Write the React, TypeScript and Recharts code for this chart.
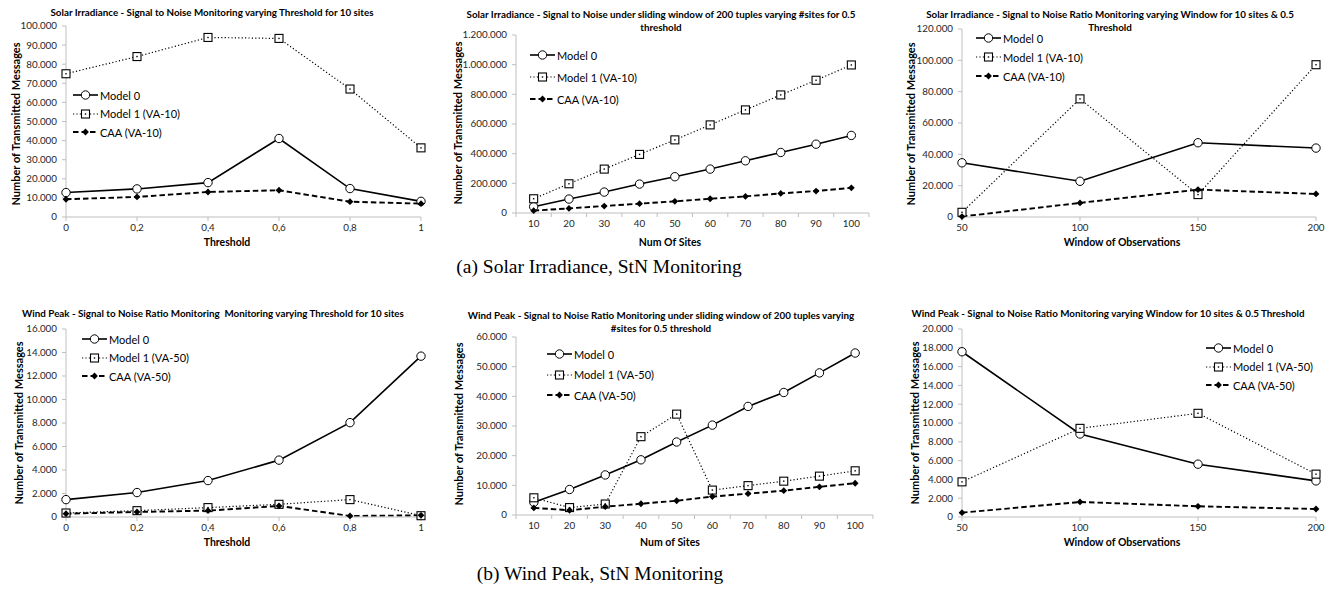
import React from 'react';
import { LineChart, Line, XAxis, YAxis, Legend } from 'recharts';

// ---------- data ----------
const thresholds = [0, 0.2, 0.4, 0.6, 0.8, 1];
const sites = [10, 20, 30, 40, 50, 60, 70, 80, 90, 100];
const windows = [50, 100, 150, 200];

const solarThrModel0 = [12800, 14700, 18000, 41100, 14900, 8200];
const solarThrModel1 = [75000, 84000, 94000, 93500, 67000, 36200];
const solarThrCAA = [9300, 10500, 13100, 14000, 8000, 7000];

const solarSitesModel0 = [42600, 94000, 141000, 195000, 244500, 296000, 352000, 408000, 464000, 523000];
const solarSitesModel1 = [96000, 197000, 296000, 395000, 493000, 594000, 695000, 796000, 895000, 998000];
const solarSitesCAA = [16000, 31000, 47000, 63000, 78500, 96000, 112000, 132000, 148000, 170000];

const solarWinModel0 = [34600, 22800, 47400, 44000];
const solarWinModel1 = [3000, 75400, 14300, 97200];
const solarWinCAA = [300, 9000, 17500, 14700];

const windThrModel0 = [1480, 2080, 3100, 4840, 8030, 13690];
const windThrModel1 = [340, 540, 800, 1080, 1480, 110];
const windThrCAA = [280, 430, 540, 940, 90, 140];

const windSitesModel0 = [4260, 8600, 13500, 18600, 24600, 30300, 36600, 41300, 47900, 54600];
const windSitesModel1 = [5800, 2500, 3700, 26400, 34000, 8400, 9900, 11400, 13100, 14900];
const windSitesCAA = [2400, 1600, 2800, 3800, 4800, 6200, 7200, 8200, 9500, 10700];

const windWinModel0 = [17580, 8830, 5620, 3840];
const windWinModel1 = [3740, 9430, 11030, 4560];
const windWinCAA = [460, 1600, 1140, 850];

const solarNames = ['Model 0', 'Model 1 (VA-10)', 'CAA (VA-10)'];
const windNames = ['Model 0', 'Model 1 (VA-50)', 'CAA (VA-50)'];

// ---------- helpers ----------
const FONT = 'Lato, "Liberation Sans", sans-serif';
const AXIS_GRAY = '#bfbfbf';
const TICK_COLOR = '#262626';

const fmtThousands = (v: number) => Math.round(v).toString().replace(/\B(?=(\d{3})+(?!\d))/g, '.');
const fmtDecimal = (v: number) => String(v).replace('.', ',');

const rows = (xs: number[], a: number[], b: number[], c: number[]) =>
  xs.map((x, i) => ({ x, m0: a[i], m1: b[i], caa: c[i] }));

const CircleDot = (props: any) => {
  const { cx, cy, index } = props;
  if (cx == null || cy == null) return <g key={`c${index}`} />;
  return <circle key={`c${index}`} cx={cx} cy={cy} r={4.2} fill="#fff" stroke="#000" strokeWidth={1} />;
};
const SquareDot = (props: any) => {
  const { cx, cy, index } = props;
  if (cx == null || cy == null) return <g key={`s${index}`} />;
  return (
    <g key={`s${index}`}>
      <rect x={cx - 4} y={cy - 4} width={8} height={8} fill="#fff" stroke="#000" strokeWidth={1.1} />
      <rect x={cx - 0.7} y={cy - 0.7} width={1.4} height={1.4} fill="#000" />
    </g>
  );
};
const DiamondDot = (props: any) => {
  const { cx, cy, index } = props;
  if (cx == null || cy == null) return <g key={`d${index}`} />;
  const r = 3.4;
  return (
    <polygon key={`d${index}`} points={`${cx},${cy - r} ${cx + r},${cy} ${cx},${cy + r} ${cx - r},${cy}`} fill="#000" />
  );
};

const seriesStyles = [
  { key: 'm0', Dot: CircleDot, dash: undefined as string | undefined, width: 1.6 },
  { key: 'm1', Dot: SquareDot, dash: '1.2 2.2', width: 1.2 },
  { key: 'caa', Dot: DiamondDot, dash: '5.5 3', width: 1.9 },
];

const makeLegend = (names: string[], gap: number) => () => (
  <div style={{ fontFamily: FONT, fontSize: 11, color: '#000' }}>
    {seriesStyles.map((s, i) => (
      <div key={s.key} style={{ display: 'flex', alignItems: 'center', height: gap }}>
        <svg width={25} height={12} style={{ display: 'block' }}>
          <line x1={0} y1={6} x2={25} y2={6} stroke="#000" strokeWidth={s.width} strokeDasharray={s.dash} />
          {s.Dot({ cx: 12.5, cy: 6, index: 0 })}
        </svg>
        <span style={{ marginLeft: 2, whiteSpace: 'nowrap' }}>{names[i]}</span>
      </div>
    ))}
  </div>
);

const BandTick = (props: any) => {
  const { x, y, payload, half, index } = props;
  return (
    <g>
      <line x1={x + half} x2={x + half} y1={y - 7} y2={y - 3} stroke={AXIS_GRAY} strokeWidth={1} />
      {index === 0 && <line x1={x - half} x2={x - half} y1={y - 7} y2={y - 3} stroke={AXIS_GRAY} strokeWidth={1} />}
      <text x={x} y={y} dy="0.71em" textAnchor="middle" fill={TICK_COLOR} fontSize={9.8} fontFamily={FONT}>
        {payload.value}
      </text>
    </g>
  );
};

type PanelCfg = {
  box: { left: number; top: number; width: number; height: number };
  plot: { x0: number; x1: number; y0: number; y1: number };
  band: boolean;
  xDomain: [number, number];
  xTicks: number[];
  xFmt: (v: number) => string;
  yMax: number;
  yStep: number;
  data: any[];
  names: string[];
  legend: { x: number; y: number; gap: number };
  title: { lines: string[]; cx: number; y: number; lineH: number };
  xTitle: { text: string; cx: number; cy: number };
  yTitle: { cx: number; cy: number };
};

const Panel = ({ cfg }: { cfg: PanelCfg }) => {
  const { box, plot } = cfg;
  const yAxisW = 50;
  const xAxisH = 30;
  const margin = {
    top: plot.y0 - box.top,
    right: box.left + box.width - plot.x1,
    left: plot.x0 - box.left - yAxisW,
    bottom: box.top + box.height - plot.y1 - xAxisH,
  };
  const yTicks: number[] = [];
  for (let v = 0; v <= cfg.yMax + 1e-6; v += cfg.yStep) yTicks.push(v);
  const half = (plot.x1 - plot.x0) / 20;
  return (
    <>
      <div style={{ position: 'absolute', left: box.left, top: box.top, width: box.width, height: box.height }}>
        <LineChart width={box.width} height={box.height} data={cfg.data} margin={margin}>
          {cfg.band ? (
            <XAxis
              dataKey="x"
              type="number"
              domain={cfg.xDomain}
              ticks={cfg.xTicks}
              height={xAxisH}
              stroke={AXIS_GRAY}
              tickLine={false}
              tickSize={4}
              tickMargin={3}
              interval={0}
              tick={<BandTick half={half} />}
            />
          ) : (
            <XAxis
              dataKey="x"
              type="number"
              domain={cfg.xDomain}
              ticks={cfg.xTicks}
              height={xAxisH}
              stroke={AXIS_GRAY}
              tickLine={{ stroke: AXIS_GRAY }}
              tickSize={4}
              tickMargin={3}
              interval={0}
              tickFormatter={cfg.xFmt}
              tick={{ fill: TICK_COLOR, fontSize: 9.8, fontFamily: FONT }}
            />
          )}
          <YAxis
            type="number"
            domain={[0, cfg.yMax]}
            ticks={yTicks}
            interval={0}
            width={yAxisW}
            stroke={AXIS_GRAY}
            tickLine={{ stroke: AXIS_GRAY }}
            tickSize={4}
            tickMargin={5}
            tickFormatter={fmtThousands}
            tick={{ fill: TICK_COLOR, fontSize: 9.8, fontFamily: FONT }}
          />
          <Legend
            layout="vertical"
            align="center"
            verticalAlign="middle"
            content={makeLegend(cfg.names, cfg.legend.gap)}
            wrapperStyle={{
              left: cfg.legend.x - box.left,
              top: cfg.legend.y - box.top - cfg.legend.gap / 2,
              width: 'auto',
              height: 'auto',
            }}
          />
          {seriesStyles.map((s, i) => (
            <Line
              key={s.key}
              name={cfg.names[i]}
              dataKey={s.key}
              type="linear"
              stroke="#000"
              strokeWidth={s.width}
              strokeDasharray={s.dash}
              dot={(p: any) => s.Dot(p)}
              activeDot={false}
              isAnimationActive={false}
            />
          ))}
        </LineChart>
      </div>
      {cfg.title.lines.map((t, i) => (
        <div
          key={`t${i}`}
          style={{
            position: 'absolute',
            left: cfg.title.cx,
            top: cfg.title.y + i * cfg.title.lineH,
            transform: 'translate(-50%, -50%)',
            whiteSpace: 'pre',
            fontFamily: FONT,
            fontWeight: 'bold',
            fontSize: 9.8,
            color: '#000',
            lineHeight: 1,
          }}
        >
          {t}
        </div>
      ))}
      <div
        style={{
          position: 'absolute',
          left: cfg.xTitle.cx,
          top: cfg.xTitle.cy,
          transform: 'translate(-50%, -50%)',
          whiteSpace: 'nowrap',
          fontFamily: FONT,
          fontWeight: 'bold',
          fontSize: 10.5,
          color: '#000',
          lineHeight: 1,
        }}
      >
        {cfg.xTitle.text}
      </div>
      <div
        style={{
          position: 'absolute',
          left: cfg.yTitle.cx,
          top: cfg.yTitle.cy,
          transform: 'translate(-50%, -50%) rotate(-90deg)',
          whiteSpace: 'nowrap',
          fontFamily: FONT,
          fontWeight: 'bold',
          fontSize: 11,
          color: '#000',
          lineHeight: 1,
        }}
      >
        Number of Transmitted Messages
      </div>
    </>
  );
};

const panels: PanelCfg[] = [
  {
    box: { left: 0, top: 0, width: 440, height: 250 },
    plot: { x0: 66, x1: 421, y0: 26, y1: 217 },
    band: false,
    xDomain: [0, 1],
    xTicks: thresholds,
    xFmt: fmtDecimal,
    yMax: 100000,
    yStep: 10000,
    data: rows(thresholds, solarThrModel0, solarThrModel1, solarThrCAA),
    names: solarNames,
    legend: { x: 73, y: 95, gap: 18.5 },
    title: { lines: ['Solar Irradiance - Signal to Noise Monitoring varying Threshold for 10 sites'], cx: 212, y: 13, lineH: 13 },
    xTitle: { text: 'Threshold', cx: 227, cy: 242 },
    yTitle: { cx: 15, cy: 124 },
  },
  {
    box: { left: 440, top: 0, width: 445, height: 250 },
    plot: { x0: 516, x1: 869, y0: 35, y1: 213 },
    band: true,
    xDomain: [5, 105],
    xTicks: sites,
    xFmt: (v: number) => String(v),
    yMax: 1200000,
    yStep: 200000,
    data: rows(sites, solarSitesModel0, solarSitesModel1, solarSitesCAA),
    names: solarNames,
    legend: { x: 530, y: 55, gap: 22 },
    title: {
      lines: ['Solar Irradiance - Signal to Noise under sliding window of 200 tuples varying #sites for 0.5', 'threshold'],
      cx: 661,
      y: 15,
      lineH: 13,
    },
    xTitle: { text: 'Num Of Sites', cx: 670, cy: 242 },
    yTitle: { cx: 457, cy: 123 },
  },
  {
    box: { left: 885, top: 0, width: 448, height: 250 },
    plot: { x0: 962, x1: 1316, y0: 29, y1: 217 },
    band: false,
    xDomain: [50, 200],
    xTicks: windows,
    xFmt: (v: number) => String(v),
    yMax: 120000,
    yStep: 20000,
    data: rows(windows, solarWinModel0, solarWinModel1, solarWinCAA),
    names: solarNames,
    legend: { x: 976, y: 38, gap: 19 },
    title: {
      lines: ['Solar Irradiance - Signal to Noise Ratio Monitoring varying Window for 10 sites & 0.5', 'Threshold'],
      cx: 1110,
      y: 15,
      lineH: 13,
    },
    xTitle: { text: 'Window of Observations', cx: 1122, cy: 242 },
    yTitle: { cx: 910, cy: 124 },
  },
  {
    box: { left: 0, top: 285, width: 440, height: 265 },
    plot: { x0: 66, x1: 421, y0: 329, y1: 517 },
    band: false,
    xDomain: [0, 1],
    xTicks: thresholds,
    xFmt: fmtDecimal,
    yMax: 16000,
    yStep: 2000,
    data: rows(thresholds, windThrModel0, windThrModel1, windThrCAA),
    names: windNames,
    legend: { x: 82, y: 339, gap: 18.5 },
    title: {
      lines: ['Wind Peak - Signal to Noise Ratio Monitoring  Monitoring varying Threshold for 10 sites'],
      cx: 213,
      y: 314,
      lineH: 13,
    },
    xTitle: { text: 'Threshold', cx: 227, cy: 542 },
    yTitle: { cx: 18, cy: 423 },
  },
  {
    box: { left: 440, top: 285, width: 445, height: 265 },
    plot: { x0: 516, x1: 873, y0: 337, y1: 515 },
    band: true,
    xDomain: [5, 105],
    xTicks: sites,
    xFmt: (v: number) => String(v),
    yMax: 60000,
    yStep: 10000,
    data: rows(sites, windSitesModel0, windSitesModel1, windSitesCAA),
    names: windNames,
    legend: { x: 547, y: 354, gap: 20.5 },
    title: {
      lines: ['Wind Peak - Signal to Noise Ratio Monitoring under sliding window of 200 tuples varying', '#sites for 0.5 threshold'],
      cx: 661,
      y: 316,
      lineH: 12.5,
    },
    xTitle: { text: 'Num of Sites', cx: 670, cy: 542 },
    yTitle: { cx: 458, cy: 424 },
  },
  {
    box: { left: 885, top: 285, width: 448, height: 265 },
    plot: { x0: 962, x1: 1316, y0: 329, y1: 517 },
    band: false,
    xDomain: [50, 200],
    xTicks: windows,
    xFmt: (v: number) => String(v),
    yMax: 20000,
    yStep: 2000,
    data: rows(windows, windWinModel0, windWinModel1, windWinCAA),
    names: windNames,
    legend: { x: 1206, y: 348, gap: 18.5 },
    title: {
      lines: ['Wind Peak - Signal to Noise Ratio Monitoring varying Window for 10 sites & 0.5 Threshold'],
      cx: 1108,
      y: 314,
      lineH: 13,
    },
    xTitle: { text: 'Window of Observations', cx: 1122, cy: 542 },
    yTitle: { cx: 914, cy: 423 },
  },
];

const captions = [
  { text: '(a) Solar Irradiance, StN Monitoring', cx: 599, cy: 267 },
  { text: '(b) Wind Peak, StN Monitoring', cx: 600, cy: 574 },
];

export default function App() {
  return (
    <div style={{ position: 'absolute', left: 0, top: 0, width: 1333, height: 591, background: '#fff', overflow: 'hidden' }}>
      {panels.map((p, i) => (
        <Panel key={i} cfg={p} />
      ))}
      {captions.map((c, i) => (
        <div
          key={`cap${i}`}
          style={{
            position: 'absolute',
            left: c.cx,
            top: c.cy,
            transform: 'translate(-50%, -50%)',
            whiteSpace: 'nowrap',
            fontFamily: '"Liberation Serif", "Times New Roman", serif',
            fontSize: 19.5,
            color: '#000',
            lineHeight: 1,
          }}
        >
          {c.text}
        </div>
      ))}
    </div>
  );
}
